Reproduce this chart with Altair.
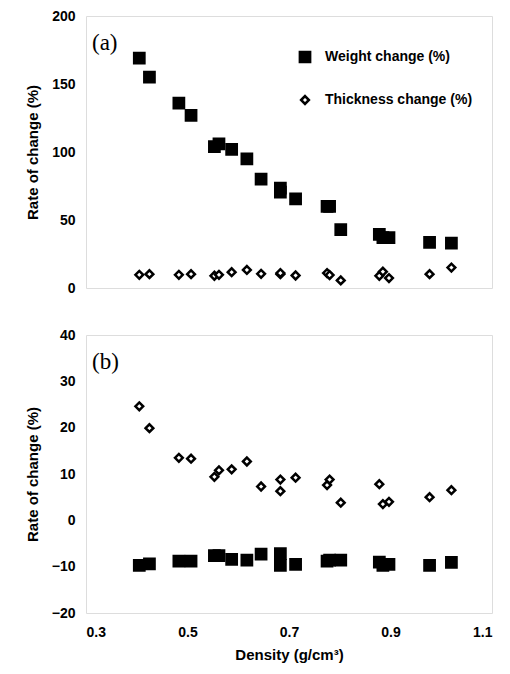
import altair as alt
import pandas as pd

density = [0.405, 0.425, 0.483, 0.507, 0.553, 0.562, 0.587, 0.617, 0.645, 0.683,
           0.683, 0.713, 0.775, 0.780, 0.802, 0.878, 0.885, 0.897, 0.977, 1.020]
weight_a = [169, 155, 136, 127, 104, 106, 102, 95, 80, 73.5,
            70.5, 65.5, 60, 60, 43, 39.5, 37, 37, 33.5, 33]
thick_a = [9.7, 10.2, 9.7, 10.2, 9.0, 9.7, 11.6, 13.3, 10.4, 10.2,
           11.0, 9.2, 11.0, 9.5, 5.6, 9.0, 12.0, 7.3, 10.2, 15.0]
weight_b = [-9.7, -9.4, -8.8, -8.8, -7.6, -7.6, -8.4, -8.6, -7.3, -9.7,
            -7.2, -9.5, -8.8, -8.6, -8.6, -9.0, -9.7, -9.5, -9.7, -9.1]
thick_b = [24.6, 19.9, 13.5, 13.3, 9.4, 10.8, 11.0, 12.7, 7.3, 8.8,
           6.3, 9.2, 7.6, 8.8, 3.8, 7.8, 3.5, 4.0, 5.0, 6.5]

series = ["Weight change (%)", "Thickness change (%)"]
x_ticks = [0.3, 0.5, 0.7, 0.9, 1.1]
ya_ticks = [0, 50, 100, 150, 200]
yb_ticks = [-20, -10, 0, 10, 20, 30, 40]

def long(w, t):
    rows = []
    for d, a, b in zip(density, w, t):
        rows.append({"density": d, "value": a, "series": series[0]})
        rows.append({"density": d, "value": b, "series": series[1]})
    return pd.DataFrame(rows)

df_a = long(weight_a, thick_a)
df_b = long(weight_b, thick_b)

FONT = "Liberation Sans"
W = 406

def panel(df, ydom, yticks, label, show_x, show_legend, h):
    if show_legend:
        leg = alt.Legend(title=None, orient="none", legendX=212, legendY=34,
                         rowPadding=23, labelFont=FONT, labelFontSize=14,
                         labelFontWeight="bold", labelColor="black", labelOffset=13,
                         symbolStrokeWidth=2.5)
    else:
        leg = None
    if show_x:
        xaxis = alt.Axis(values=x_ticks, format=".1f", ticks=False, domain=False,
                         labelPadding=12, labelFont=FONT, labelFontSize=14,
                         labelFontWeight="bold", labelColor="black",
                         title="Density (g/cm³)", titleFont=FONT, titleFontSize=15,
                         titleFontWeight="bold", titleColor="black", titlePadding=8,
                         grid=False)
    else:
        xaxis = None
    pts = alt.Chart(df).mark_point(opacity=1, strokeWidth=2.5).encode(
        x=alt.X("density:Q", scale=alt.Scale(domain=[0.3, 1.1], nice=False, zero=False), axis=xaxis),
        y=alt.Y("value:Q", scale=alt.Scale(domain=ydom, nice=False, zero=False),
                axis=alt.Axis(values=yticks, ticks=False, domain=False, grid=False,
                              labelPadding=11, labelFont=FONT, labelFontSize=14,
                              labelFontWeight="bold", labelColor="black",
                              title="Rate of change (%)", titleFont=FONT, titleFontSize=15,
                              titleFontWeight="bold", titleColor="black",
                              titleX=-46, titleY=h / 2)),
        shape=alt.Shape("series:N", scale=alt.Scale(domain=series, range=["square", "diamond"]), legend=leg),
        fill=alt.Fill("series:N", scale=alt.Scale(domain=series, range=["black", "white"]), legend=leg),
        stroke=alt.Stroke("series:N", scale=alt.Scale(domain=series, range=["black", "black"]), legend=leg),
        size=alt.Size("series:N", scale=alt.Scale(domain=series, range=[105, 60]), legend=leg),
    )
    txt = alt.Chart(pd.DataFrame({"label": [label]})).mark_text(
        align="left", baseline="middle", font="Liberation Serif", fontSize=23, color="black"
    ).encode(text="label:N", x=alt.value(6), y=alt.value(27))
    return alt.layer(pts, txt).properties(width=W, height=h)

top = panel(df_a, [0, 200], ya_ticks, "(a)", False, True, 272)
bottom = panel(df_b, [-20, 40], yb_ticks, "(b)", True, False, 278)

chart = alt.vconcat(top, bottom, spacing=31).resolve_scale(
    shape="independent", fill="independent", size="independent", stroke="independent"
).properties(
    padding={"left": 16, "top": 0, "right": 0, "bottom": 0}
).configure_view(stroke="black", strokeWidth=1.2).configure(background="white")

chart.save("out.html", embed_options={"renderer": "svg", "actions": False})
